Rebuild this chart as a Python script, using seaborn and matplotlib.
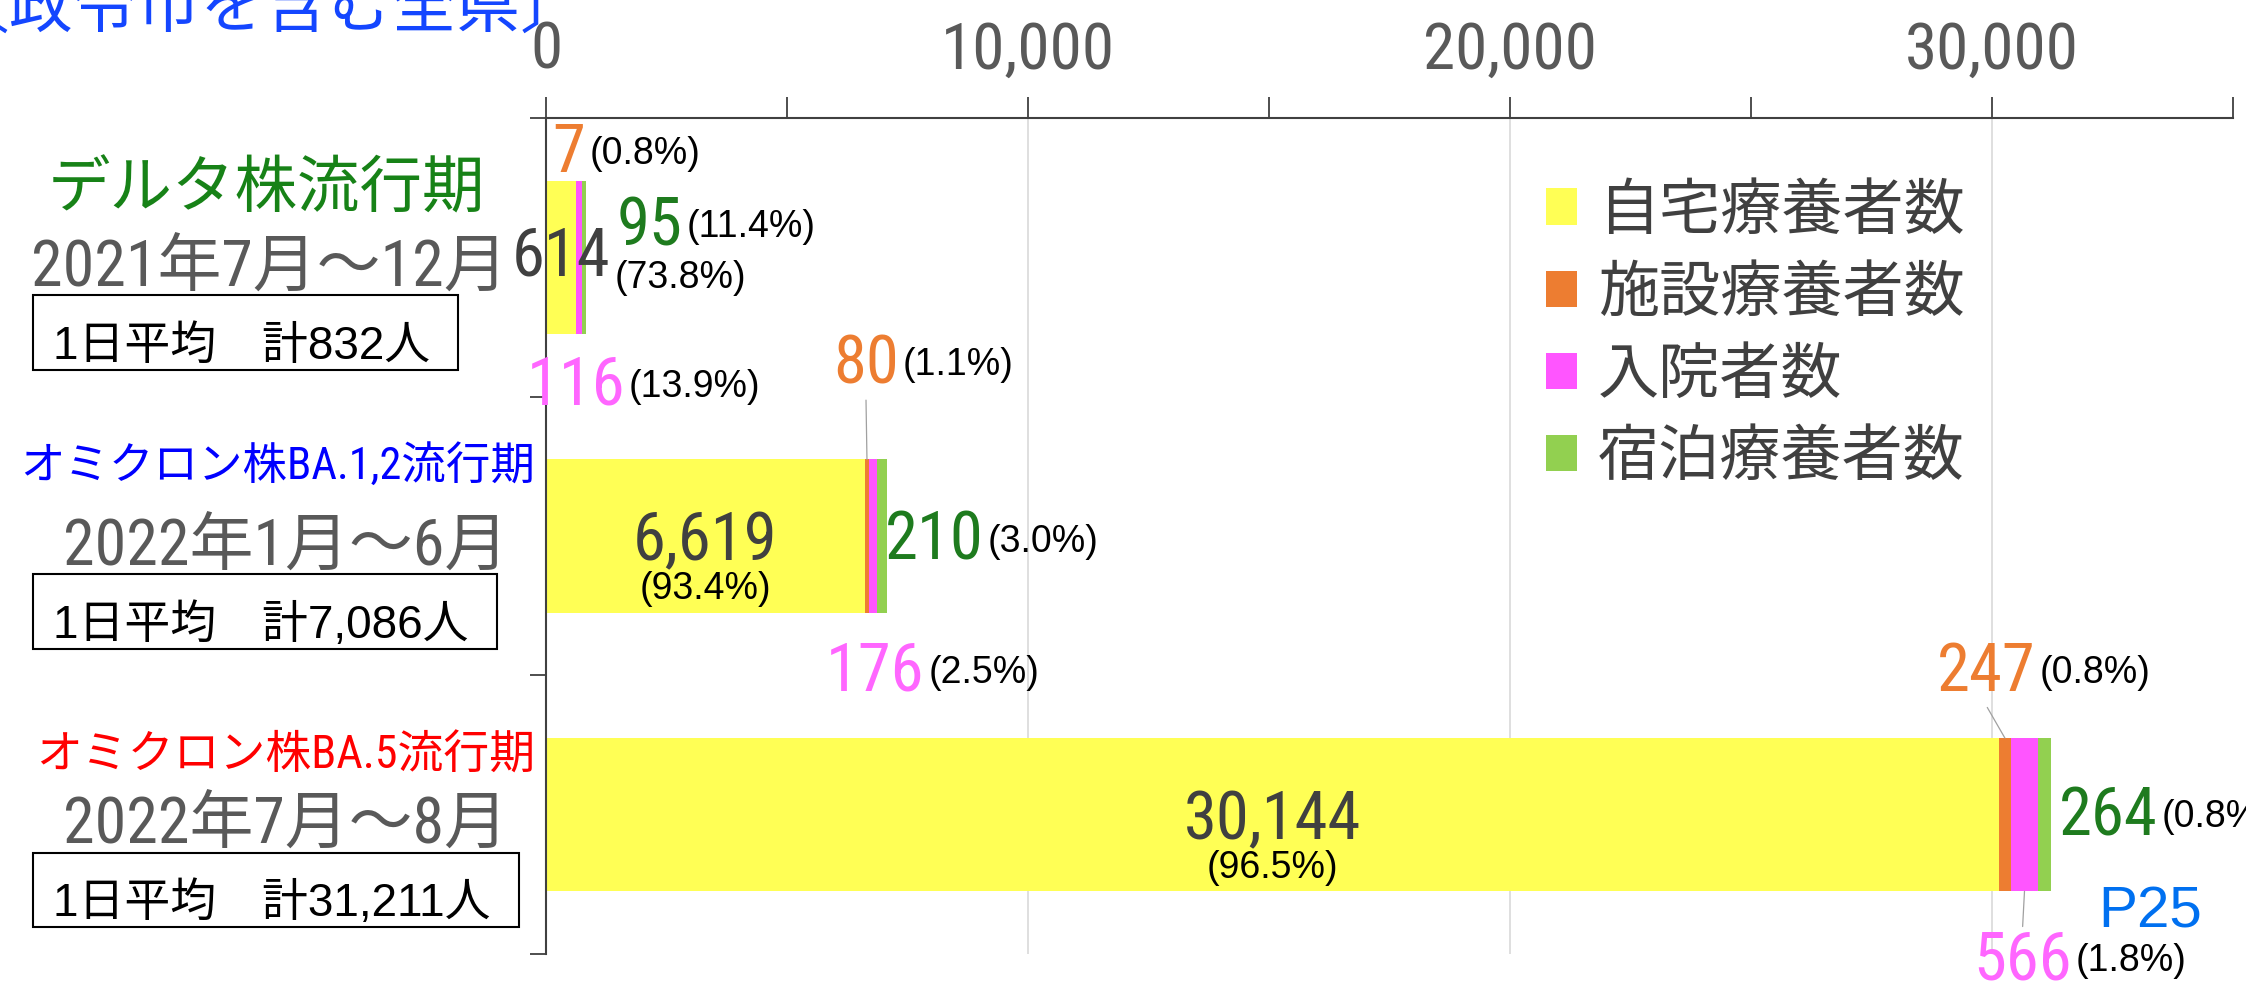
import matplotlib
matplotlib.use('Agg')
import matplotlib.pyplot as plt
from matplotlib import font_manager
from matplotlib.patches import Rectangle
import seaborn as sns
import pandas as pd

# ---- data ----
periods = ['デルタ株流行期', 'オミクロン株BA.1,2流行期', 'オミクロン株BA.5流行期']
period_dates = ['2021年7月～12月', '2022年1月～6月', '2022年7月～8月']
period_totals = ['832', '7,086', '31,211']
series = ['自宅療養者数', '施設療養者数', '入院者数', '宿泊療養者数']
home = [614, 6619, 30144]
facility = [7, 80, 247]
hospital = [116, 176, 566]
hotel = [95, 210, 264]
home_pct = [73.8, 93.4, 96.5]
facility_pct = [0.8, 1.1, 0.8]
hospital_pct = [13.9, 2.5, 1.8]
hotel_pct = [11.4, 3.0, 0.8]
x_major = [0, 10000, 20000, 30000]
x_minor = [5000, 15000, 25000, 35000]

colors = ['#FFFF55', '#ED7D31', '#FF55FF', '#92D050']
text_colors = ['#404040', '#ED7D31', '#FF66FF', '#1E7B1E']
period_colors = ['#178217', '#0000FF', '#FF0000']

W, H = 2246, 990
installed = {f.name for f in font_manager.fontManager.ttflist}
narrow_name = next((n for n in ['Liberation Sans Narrow', 'Roboto Condensed',
                                'DejaVu Sans Condensed', 'Open Sans Condensed',
                                'Noto Sans Condensed', 'Nimbus Sans Narrow']
                    if n in installed), None)
CJK = ['Noto Sans CJK JP', 'DejaVu Sans']
REG = ['Liberation Sans', 'Noto Sans CJK JP']
if narrow_name:
    NARROW = [narrow_name, 'Noto Sans CJK JP']
    k = 1.0
else:
    NARROW = ['Roboto', 'Noto Sans CJK JP']
    k = 0.82

sns.set_style('white')
plt.rcParams['font.family'] = CJK

df = pd.DataFrame({'period': periods, series[0]: home, series[1]: facility,
                   series[2]: hospital, series[3]: hotel})
cum = df[series].cumsum(axis=1)

fig = plt.figure(figsize=(W / 100, H / 100), dpi=100)
ax = fig.add_axes([546 / W, 1 - 954 / H, (2233 - 546) / W, (954 - 118) / H])

# stacked bars: draw cumulative totals from the last segment backwards
for name, col in reversed(list(zip(series, colors))):
    sns.barplot(x=cum[name], y=df['period'], order=periods, orient='h', color=col,
                saturation=1, width=0.55, linewidth=0, errorbar=None, label=name, ax=ax)

ax.set_xlim(0, 35000)
ax.set_ylim(2.5, -0.5)
ax.set_xlabel('')
ax.set_ylabel('')
ax.xaxis.tick_top()
ax.set_xticks(x_major)
ax.set_xticklabels([f'{v:,}' for v in x_major])
ax.set_xticks(x_minor, minor=True)
ax.set_yticks([-0.5, 0.5, 1.5, 2.5])
ax.set_yticklabels([])
ax.tick_params(axis='x', which='both', direction='out', length=15, width=1.3,
               color='#404040', pad=11, top=True, bottom=False)
ax.tick_params(axis='x', which='major', labelsize=47 * k, labelcolor='#595959')
ax.tick_params(axis='y', direction='out', length=11.5, width=1.3, color='#404040', left=True)
for lab in ax.get_xticklabels():
    lab.set_family(NARROW)
for s in ['right', 'bottom']:
    ax.spines[s].set_visible(False)
for s in ['top', 'left']:
    ax.spines[s].set_color('#404040')
    ax.spines[s].set_linewidth(1.5)
ax.grid(axis='x', which='major', color='#D9D9D9', lw=1.2)
ax.set_axisbelow(True)

# legend in series order
h, l = ax.get_legend_handles_labels()
hmap = dict(zip(l, h))
ax.legend([hmap[s] for s in series], series, loc='upper left',
          bbox_to_anchor=(1546 / W, 1 - 180 / H), bbox_transform=fig.transFigure,
          frameon=False, prop={'family': CJK, 'size': 44}, labelcolor='#404040',
          handlelength=0.5, handleheight=0.55, handletextpad=0.35,
          labelspacing=0.32, borderpad=0, borderaxespad=0)

leader = dict(arrowstyle='-', color='#A0A0A0', lw=0.9, shrinkA=2, shrinkB=0)


def num_label(xy, off, txt, color, ha='center', line=None):
    t = ax.annotate(txt, xy=xy, xytext=off, textcoords='offset pixels', ha=ha,
                    va='center', color=color, fontsize=48 * k, family=NARROW,
                    annotation_clip=False)
    if line is not None:
        # leader from the label edge to the bar segment
        ax.annotate('', xy=xy, xytext=line, textcoords=t, arrowprops=leader,
                    annotation_clip=False)
    return t


def pct_label(t, p):
    ax.annotate(f'({p:.1f}%)', xy=(1, 0.5), xycoords=t, xytext=(4, 0),
                textcoords='offset pixels', ha='left', va='center', fontsize=27,
                family=REG, color='black', annotation_clip=False)


half = 0.275
fac_off = [(-7, 27), (-1, 94), (-19, 65)]
fac_line = [None, (0.5, 0.0), (0.5, 0.0)]
hosp_off = [(-3, -53), (2, -60), (-2, -70)]
hosp_line = [None, None, (0.5, 1.0)]
hotel_off = [(31, 30), (-3, -6), (8, -2.5)]
home_off = [(0, 0), (0, -6), (0, -6.5)]

for i in range(len(periods)):
    total = cum[series[3]][i]
    # home
    num_label((home[i] / 2, i), home_off[i], f'{home[i]:,}', text_colors[0])
    if i == 0:
        ax.annotate(f'({home_pct[i]:.1f}%)', xy=(total, i), xytext=(29, -21),
                    textcoords='offset pixels', ha='left', va='center', fontsize=27,
                    family=REG, color='black', annotation_clip=False)
    else:
        ax.annotate(f'({home_pct[i]:.1f}%)', xy=(home[i] / 2, i),
                    xytext=(0, home_off[i][1] - 47), textcoords='offset pixels',
                    ha='center', va='center', fontsize=27, family=REG, color='black')
    # facility
    t = num_label((home[i] + facility[i] / 2, i - half), fac_off[i], f'{facility[i]:,}',
                  text_colors[1], line=fac_line[i])
    pct_label(t, facility_pct[i])
    # hospital
    t = num_label((cum[series[1]][i] + hospital[i] / 2, i + half), hosp_off[i],
                  f'{hospital[i]:,}', text_colors[2], line=hosp_line[i])
    pct_label(t, hospital_pct[i])
    # hotel
    t = num_label((total, i), hotel_off[i], f'{hotel[i]:,}', text_colors[3], ha='left')
    pct_label(t, hotel_pct[i])

# left side period captions
period_size = [45, 32, 33]
period_ha = ['center', 'right', 'right']
period_x = [266, 535, 535]
period_base = [-49.5, -57, -46.5]
fig.canvas.draw()
renderer = fig.canvas.get_renderer()
for i in range(len(periods)):
    c = H - ax.transData.transform((0, i))[1]
    fig.text(period_x[i] / W, 1 - (c + period_base[i]) / H, periods[i], ha=period_ha[i],
             va='baseline', fontsize=period_size[i], family=NARROW, color=period_colors[i])
    fig.text(508 / W, 1 - (c + 29.5) / H, period_dates[i], ha='right', va='baseline',
             fontsize=46 * (0.9 if k < 1 else 1), family=NARROW, color='#595959')
    bt = fig.text(53 / W, 1 - (c + 101.5) / H, f'1日平均　計{period_totals[i]}人',
                  ha='left', va='baseline', fontsize=33, family=REG, color='black', zorder=5)
    bb = bt.get_window_extent(renderer)
    fig.add_artist(Rectangle((33 / W, 1 - (c + 112.5) / H), (bb.x1 + 28 - 33) / W, 74.5 / H,
                             transform=fig.transFigure, facecolor='white',
                             edgecolor='black', lw=1.5, zorder=4))

fig.text(-54 / W, 1 - 28 / H, '〔政令市を含む全県〕', ha='left', va='baseline',
         fontsize=46, family=CJK, color='#1446FF')
fig.text(2098 / W, 1 - 927 / H, 'P25', ha='left', va='baseline', fontsize=42,
         family=['Liberation Sans', 'DejaVu Sans'], color='#0070F0')

fig.savefig('out.png', dpi=100)
